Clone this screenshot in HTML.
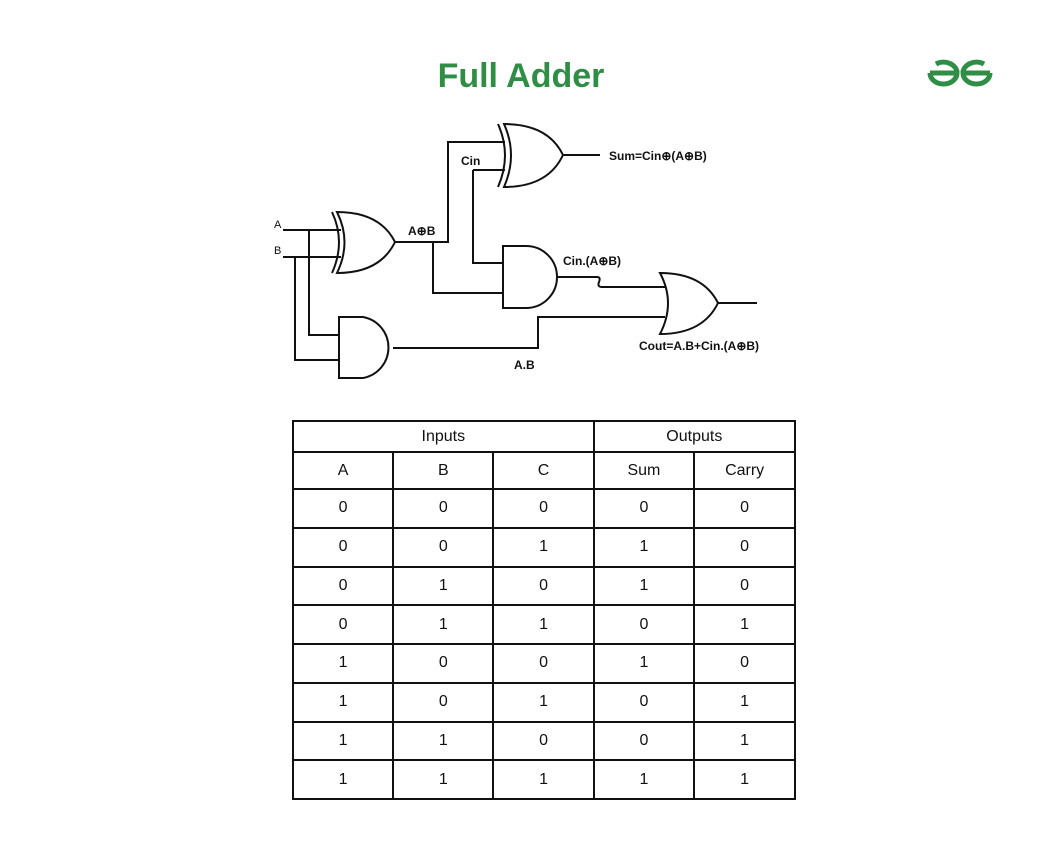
<!DOCTYPE html>
<html><head><style>
body{margin:0;background:#fff;width:1042px;height:850px;position:relative;font-family:"Liberation Sans",sans-serif;overflow:hidden}
.t{position:absolute;left:0;width:1042px;top:57px;text-align:center;color:#2f8d46;font-weight:bold;font-size:34px}
table{position:absolute;left:292px;top:420px;border-collapse:collapse;width:504px}
td{border:2px solid #111;text-align:center;font-size:16px;color:#111;height:35px;padding:0;width:100px}
tr.r td{height:36.75px}
</style></head><body>
<div class="t">Full Adder</div>
<svg style="position:absolute;left:0;top:0" width="1042" height="850">
<g fill="none" stroke="#2f8d46" stroke-width="5">
<path d="M930 73 H957 A13.5 11 0 0 1 930 73 M957 73 A13.5 11 0 0 0 936 64"/>
<path d="M990 73 H963 A13.5 11 0 0 0 990 73 M963 73 A13.5 11 0 0 1 984 64"/>
</g>
<g fill="none" stroke="#111" stroke-width="2">
<path d="M332 212 Q346 242 332 273"/>
<path d="M337 212 Q352 242 337 273 Q380 273 395 242 Q380 212 337 212Z"/>
<path d="M498 124 Q512 155 498 187"/>
<path d="M504 124 Q518 155 504 187 Q548 187 563 155 Q548 124 504 124Z"/>
<path d="M660 273 Q676 303 660 334 Q703 334 718 303 Q703 273 660 273Z"/>
<path d="M339 317 H363 A31 31 0 0 1 363 378 H339Z"/>
<path d="M503 246 H526 A31 31 0 0 1 526 308 H503Z"/>
<path d="M283 230 H341 M283 257 H341"/>
<path d="M309 230 V335 H339 M295 257 V360 H339"/>
<path d="M393 348 H538 V317 H665"/>
<path d="M395 242 H448 V142 H505 M433 242 V293 H503"/>
<path d="M473 170 H505 M473 170 V263 H503"/>
<path d="M563 155 H600 M718 303 H757"/>
<path d="M556 277 H597 Q601 277 599 282 Q597 287 602 287 H665"/>
</g>
<g font-family="Liberation Sans,sans-serif" font-size="12" font-weight="bold" fill="#111">
<text x="274" y="228" font-weight="normal" font-size="11">A</text>
<text x="274" y="254" font-weight="normal" font-size="11">B</text>
<text x="408" y="235">A⊕B</text>
<text x="461" y="165">Cin</text>
<text x="609" y="160">Sum=Cin⊕(A⊕B)</text>
<text x="563" y="265">Cin.(A⊕B)</text>
<text x="639" y="350">Cout=A.B+Cin.(A⊕B)</text>
<text x="514" y="369">A.B</text>
</g>
</svg>
<table>
<tr><td colspan="3" style="height:29px">Inputs</td><td colspan="2" style="height:29px">Outputs</td></tr>
<tr><td>A</td><td>B</td><td>C</td><td>Sum</td><td>Carry</td></tr>
<tr class="r"><td>0</td><td>0</td><td>0</td><td>0</td><td>0</td></tr>
<tr class="r"><td>0</td><td>0</td><td>1</td><td>1</td><td>0</td></tr>
<tr class="r"><td>0</td><td>1</td><td>0</td><td>1</td><td>0</td></tr>
<tr class="r"><td>0</td><td>1</td><td>1</td><td>0</td><td>1</td></tr>
<tr class="r"><td>1</td><td>0</td><td>0</td><td>1</td><td>0</td></tr>
<tr class="r"><td>1</td><td>0</td><td>1</td><td>0</td><td>1</td></tr>
<tr class="r"><td>1</td><td>1</td><td>0</td><td>0</td><td>1</td></tr>
<tr class="r"><td>1</td><td>1</td><td>1</td><td>1</td><td>1</td></tr>
</table>
</body></html>
